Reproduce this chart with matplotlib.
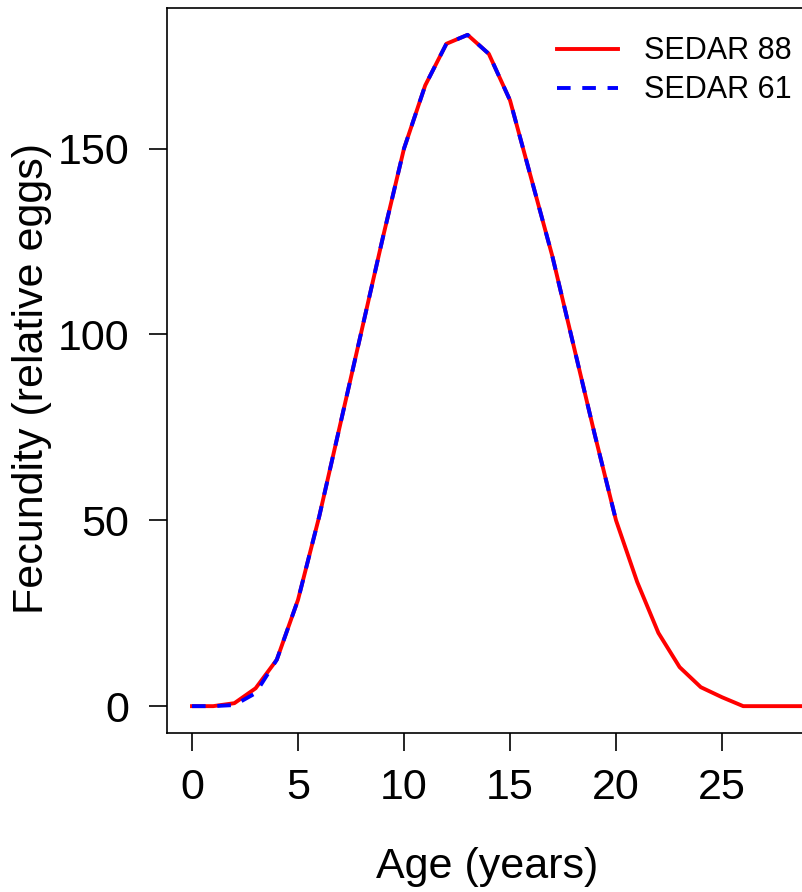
import numpy as np
import matplotlib
matplotlib.use("Agg")
import matplotlib.pyplot as plt

plt.rcParams['font.family'] = ['Liberation Sans', 'DejaVu Sans']

# fecundity at age (relative eggs)
age_88 = np.arange(0, 31)
fec_88 = [0, 0, 0.8, 4.8, 12.5, 28.6, 51, 76, 101, 126, 150,
          167, 178.2, 180.6, 175.5, 163, 142, 121, 97, 73, 50,
          33.4, 19.7, 10.5, 5.1, 2.4, 0, 0, 0, 0, 0]
age_61 = np.arange(0, 21)
fec_61 = [0, 0, 0.3, 3.5, 12.5, 28.6, 51, 76, 101, 126, 150,
          167, 178.2, 180.6, 175.5, 163, 142, 121, 97, 73, 50]

labels = ["SEDAR 88", "SEDAR 61"]

W, H = 802, 892
fig = plt.figure(figsize=(W / 100, H / 100), dpi=100)

# R style axis extent (4% padding); right side runs past the figure edge
xmin, xmax = 0, 30
ymin, ymax = 0, max(max(fec_88), max(fec_61))
xpad = 0.04 * (xmax - xmin)
ypad = 0.04 * (ymax - ymin)

ppx = 21.2  # px per year
left_px = 192 - xpad * ppx
width_px = (xmax - xmin + 2 * xpad) * ppx
top_px, bot_px = 8, 733
ax = fig.add_axes([left_px / W, 1 - bot_px / H, width_px / W, (bot_px - top_px) / H])

ax.plot(age_88, fec_88, color='red', lw=2.8, label=labels[0])
ax.plot(age_61, fec_61, color='blue', lw=2.8, dashes=(3.5, 3), label=labels[1])

ax.set_xlim(xmin - xpad, xmax + xpad)
ax.set_ylim(ymin - ypad, ymax + ypad)
ax.set_xticks(np.arange(0, 31, 5))
ax.set_yticks([0, 50, 100, 150])

for s in ax.spines.values():
    s.set_linewidth(1.2)

ax.tick_params(axis='both', labelsize=31, length=13, width=1.2, direction='out')
ax.tick_params(axis='x', pad=12)
ax.tick_params(axis='y', pad=14)

# axis titles
fig.text(487 / W, 1 - 878 / H, "Age (years)", fontsize=31, ha='center', va='baseline')
fig.text(32 / W, 1 - 379 / H, "Fecundity (relative eggs)", fontsize=31,
         rotation=90, ha='center', va='center')

leg = ax.legend(loc='upper left', bbox_to_anchor=((545 - left_px) / width_px, 1 - 16 / (bot_px - top_px)),
                frameon=False, fontsize=22, handlelength=2.0, handletextpad=0.85,
                labelspacing=0.3, borderaxespad=0.0)

fig.savefig("out.png", dpi=100)
